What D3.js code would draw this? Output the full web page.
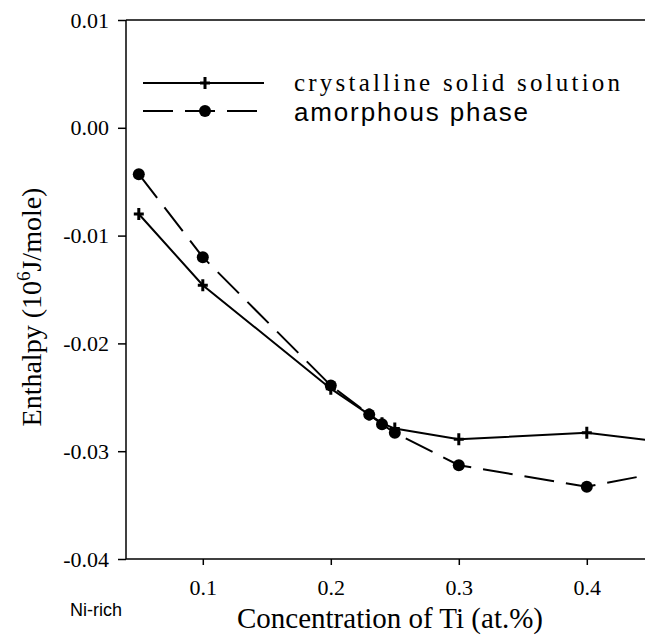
<!DOCTYPE html>
<html>
<head>
<meta charset="utf-8">
<script src="https://cdn.jsdelivr.net/npm/d3@7"></script>
<style>
  html, body { margin: 0; padding: 0; background: #fff; overflow: hidden; }
  svg { display: block; }
</style>
</head>
<body>
<svg id="chart" width="645" height="637"></svg>
<script>
// ---- data ----
const concentration = [0.05, 0.1, 0.2, 0.23, 0.24, 0.25, 0.3, 0.4, 0.5];
const crystalline   = [-0.0080, -0.0146, -0.0242, -0.0266, -0.0274, -0.0279, -0.0289, -0.0283, -0.0297];
const amorphous     = [-0.0043, -0.0120, -0.0239, -0.0266, -0.0275, -0.0283, -0.0313, -0.0333, -0.0310];
const xTicks = [0.1, 0.2, 0.3, 0.4];
const yTicks = [0.01, 0.00, -0.01, -0.02, -0.03, -0.04];
const seriesNames = ["crystalline  solid solution", "amorphous phase"];

(function () {
const svg = d3.select("#chart");
const W = 645;
const mLeft = 126, mTop = 20, mBottom = 559;

const x = d3.scaleLinear().domain([0.04, 0.5]).range([mLeft, mLeft + 0.46 * 1280]);
const y = d3.scaleLinear().domain([-0.04, 0.01]).range([mBottom, mTop]);

const serif = "'Liberation Serif', 'Times New Roman', serif";
const sans = "'Liberation Sans', Arial, sans-serif";

svg.append("defs").append("clipPath").attr("id", "clip")
  .append("rect").attr("x", mLeft).attr("y", mTop).attr("width", W - mLeft).attr("height", mBottom - mTop);

const fmt = d => d3.format(".2f")(d).replace("−", "-");
const yAxis = svg.append("g").attr("transform", `translate(${mLeft},0)`)
  .call(d3.axisLeft(y).tickValues(yTicks).tickFormat(fmt).tickSize(8).tickSizeOuter(0).tickPadding(9));
yAxis.selectAll("text").attr("font-family", serif).attr("font-size", 22).attr("fill", "#000");

const xAxis = svg.append("g").attr("transform", `translate(0,${mBottom})`)
  .call(d3.axisBottom(x).tickValues(xTicks).tickFormat(d3.format(".1f")).tickSize(6).tickSizeOuter(0).tickPadding(14));
xAxis.selectAll("text").attr("font-family", serif).attr("font-size", 22).attr("fill", "#000");

svg.selectAll(".domain").remove();
svg.selectAll(".tick line").attr("stroke", "#000").attr("stroke-width", 1.5);

svg.append("line").attr("x1", mLeft).attr("x2", mLeft).attr("y1", mTop).attr("y2", mBottom)
  .attr("stroke", "#000").attr("stroke-width", 1.5);
svg.append("line").attr("x1", mLeft).attr("x2", W).attr("y1", mBottom).attr("y2", mBottom)
  .attr("stroke", "#000").attr("stroke-width", 1.5);
svg.append("line").attr("x1", mLeft).attr("x2", W).attr("y1", mTop).attr("y2", mTop)
  .attr("stroke", "#000").attr("stroke-width", 1.5);

const plot = svg.append("g").attr("clip-path", "url(#clip)");
const line = d3.line().x(d => x(d[0])).y(d => y(d[1]));
const cryData = concentration.map((c, i) => [c, crystalline[i]]);
const amoData = concentration.map((c, i) => [c, amorphous[i]]);

plot.append("path").datum(amoData).attr("d", line)
  .attr("fill", "none").attr("stroke", "#000").attr("stroke-width", 2)
  .attr("stroke-dasharray", "30,12");
plot.append("path").datum(cryData).attr("d", line)
  .attr("fill", "none").attr("stroke", "#000").attr("stroke-width", 2);

function drawPlus(g, cx, cy) {
  g.append("path").attr("d", `M${cx - 5},${cy}H${cx + 5}M${cx},${cy - 6}V${cy + 6}`)
    .attr("stroke", "#000").attr("stroke-width", 3);
}
plot.selectAll("circle.amo").data(amoData).enter().append("circle")
  .attr("class", "amo").attr("cx", d => x(d[0])).attr("cy", d => y(d[1])).attr("r", 6).attr("fill", "#000");
cryData.forEach(d => drawPlus(plot, x(d[0]), y(d[1])));

const lg = svg.append("g");
lg.append("line").attr("x1", 143).attr("x2", 264).attr("y1", 83).attr("y2", 83)
  .attr("stroke", "#000").attr("stroke-width", 2);
drawPlus(lg, 205, 83);
lg.append("line").attr("x1", 143).attr("x2", 264).attr("y1", 111).attr("y2", 111)
  .attr("stroke", "#000").attr("stroke-width", 2).attr("stroke-dasharray", "30,12");
lg.append("circle").attr("cx", 205).attr("cy", 111).attr("r", 6).attr("fill", "#000");
lg.append("text").attr("x", 294).attr("y", 91).text(seriesNames[0])
  .attr("font-family", serif).attr("font-size", 25).attr("textLength", 326).attr("lengthAdjust", "spacing");
lg.append("text").attr("x", 294).attr("y", 121).text(seriesNames[1])
  .attr("font-family", sans).attr("font-size", 26).attr("textLength", 234).attr("lengthAdjust", "spacing");

svg.append("text").attr("x", 390).attr("y", 628).attr("text-anchor", "middle")
  .attr("font-family", serif).attr("font-size", 29).text("Concentration of Ti (at.%)");
svg.append("text").attr("x", 70).attr("y", 616).attr("font-family", sans).attr("font-size", 18).text("Ni-rich");

const yl = svg.append("text").attr("transform", "translate(41,307) rotate(-90)")
  .attr("text-anchor", "middle").attr("font-family", serif).attr("font-size", 28);
yl.append("tspan").text("Enthalpy (10");
yl.append("tspan").attr("dy", -11).attr("font-size", 19).text("6");
yl.append("tspan").attr("dy", 11).text("J/mole)");
})();
</script>
</body>
</html>
